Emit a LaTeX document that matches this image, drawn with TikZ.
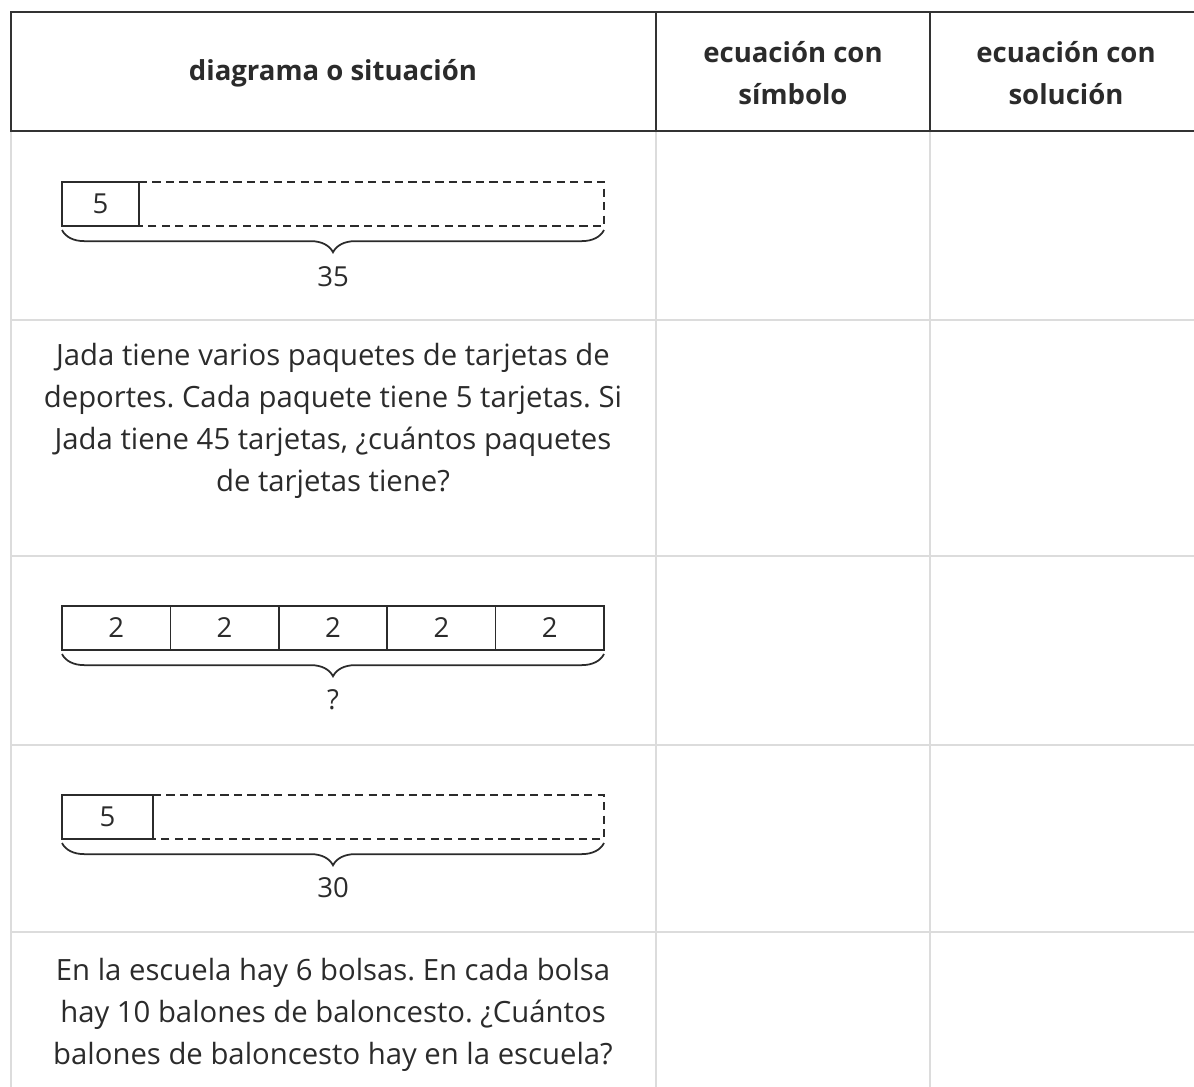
\documentclass[tikz,border=0pt]{standalone}
\usepackage{fontspec}
\setmainfont{Open Sans}
\usepackage{xcolor}
\usepackage{tikz}
\usetikzlibrary{calc,decorations.pathreplacing}
\frenchspacing
\definecolor{ink}{HTML}{2B2B2B}
\definecolor{hdrline}{HTML}{333333}
\definecolor{rule}{HTML}{DCDCDC}
\tikzset{
  hdrLine/.style={draw=hdrline, line width=2.5pt},
  gridLine/.style={draw=rule, line width=1.3pt},
  hdrLbl/.style={text=ink, font=\fontsize{23.5}{36.5}\selectfont\bfseries, align=center},
  bodyLbl/.style={text=ink, font=\fontsize{25}{35.8}\selectfont, align=center},
  numLbl/.style={text=ink, font=\fontsize{23.5}{26}\selectfont, inner sep=0pt},
  tapeBox/.style={draw=ink, line width=1.5pt},
  tapeDash/.style={draw=ink, line width=1.5pt, dash pattern=on 7pt off 4.5pt},
  tapeBrace/.style={draw=ink, line width=1.5pt, decorate,
    decoration={brace, mirror, amplitude=19pt}},
}
\newcommand{\TapeCoordsOne}{%
  \coordinate (t1a) at (62,182);
  \coordinate (t1b) at (139,226);
  \coordinate (t1e) at (604,182);
}
\newcommand{\TapeCoordsFour}{%
  \coordinate (t4a) at (62,795);
  \coordinate (t4b) at (153,839);
  \coordinate (t4e) at (604,795);
}

\begin{document}
\begin{tikzpicture}[x=0.03cm, y=-0.03cm]
  \useasboundingbox (0,0) rectangle (1194,1087);

  % body grid
  \draw[gridLine] (11,131) -- (11,1087);
  \draw[gridLine] (656,131) -- (656,1087);
  \draw[gridLine] (930,131) -- (930,1087);
  \foreach \y in {320,556,745,932}
    \draw[gridLine] (11,\y) -- (1194,\y);

  % header
  \draw[hdrLine] (1194,12) -- (11,12) -- (11,131) -- (1194,131);
  \draw[hdrLine] (656,12) -- (656,131);
  \draw[hdrLine] (930,12) -- (930,131);
  \node[hdrLbl] (hdrDiag) at (333,73) {diagrama o situación};
  \node[hdrLbl] (hdrSym)  at (793,73) {ecuación con\\símbolo};
  \node[hdrLbl] (hdrSol)  at (1066,73) {ecuación con\\solución};

  % row 1: 5 of 35
  \TapeCoordsOne
  \draw[tapeBox] (t1a) rectangle (t1b);
  \draw[tapeDash] (t1b |- t1a) -- (t1e) -- (t1e |- t1b) -- (t1b);
  \node[numLbl] (one5) at ($(t1a)!0.5!(t1b)$) {5};
  \coordinate (b1l) at ($(t1a |- t1b)+(0,4)$);
  \coordinate (b1r) at ($(t1e |- t1b)+(0,4)$);
  \draw[tapeBrace] (b1l) -- (b1r);
  \node[numLbl] (one35) at (333,277) {35};

  % row 2
  \node[bodyLbl] (jada) at (333,421)
    {Jada tiene varios paquetes de tarjetas de\\
     deportes. Cada paquete tiene 5 tarjetas. Si\\
     Jada tiene 45 tarjetas, ¿cuántos paquetes\\
     de tarjetas tiene?};

  % row 3: five 2s
  \foreach \i [evaluate=\i as \xl using 62+108.4*\i,
               evaluate=\i as \xr using 62+108.4*(\i+1)] in {0,...,4} {
    \draw[tapeBox] (\xl,606) rectangle (\xr,650);
    \node[numLbl] (two\i) at ({(\xl+\xr)/2},628) {2};
  }
  \coordinate (b3l) at (62,654);
  \coordinate (b3r) at (604,654);
  \draw[tapeBrace] (b3l) -- (b3r);
  \node[numLbl] (three) at (333,700) {?};

  % row 4: 5 of 30
  \TapeCoordsFour
  \draw[tapeBox] (t4a) rectangle (t4b);
  \draw[tapeDash] (t4b |- t4a) -- (t4e) -- (t4e |- t4b) -- (t4b);
  \node[numLbl] (four5) at ($(t4a)!0.5!(t4b)$) {5};
  \coordinate (b4l) at ($(t4a |- t4b)+(0,4)$);
  \coordinate (b4r) at ($(t4e |- t4b)+(0,4)$);
  \draw[tapeBrace] (b4l) -- (b4r);
  \node[numLbl] (four30) at (333,888) {30};

  % row 5
  \node[bodyLbl] (bolsas) at (333,1015)
    {En la escuela hay 6 bolsas. En cada bolsa\\
     hay 10 balones de baloncesto. ¿Cuántos\\
     balones de baloncesto hay en la escuela?};
\end{tikzpicture}
\end{document}
